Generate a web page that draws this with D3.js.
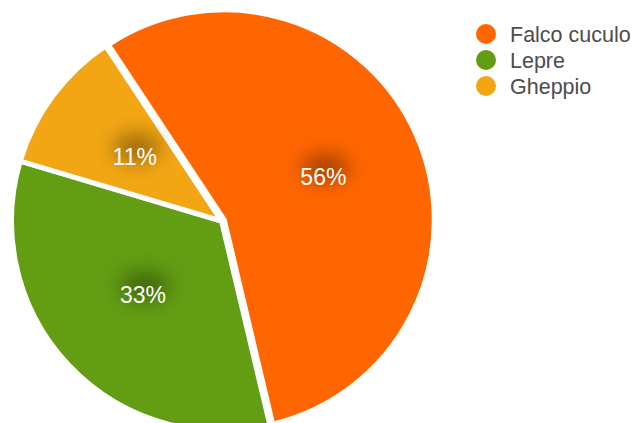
<!DOCTYPE html>
<html>
<head>
<meta charset="utf-8">
<script src="https://cdn.jsdelivr.net/npm/d3@7"></script>
<style>
  html, body { margin: 0; padding: 0; background: #fff; }
  svg { display: block; font-family: "Helvetica Neue", Helvetica, "Liberation Sans", Arial, sans-serif; }
</style>
</head>
<body>
<script>
// data (shares of the whole, in percent)
var categories = ["Falco cuculo", "Lepre", "Gheppio"];
var values = [55.6, 33.3, 11.1];
var colors = ["#ff6600", "#629d13", "#f2a614"];

var width = 635, height = 423;
var cx = 221.5, cy = 221, radius = 210;
var explode = [3, 0, 0];   // the big slice is pulled out a little

var svg = d3.select("body").append("svg")
    .attr("width", width)
    .attr("height", height);

// soft shadow behind the labels
var defs = svg.append("defs");
defs.append("filter")
    .attr("id", "blur")
    .attr("x", "-100%").attr("y", "-100%")
    .attr("width", "300%").attr("height", "300%")
    .append("feGaussianBlur")
    .attr("stdDeviation", 10);

var start = -33.5 * Math.PI / 180;
var pie = d3.pie().sort(null)
    .startAngle(start)
    .endAngle(start + 2 * Math.PI);

var arcs = pie(values);
var arc = d3.arc().innerRadius(0).outerRadius(radius);
var labelArc = d3.arc().innerRadius(216).outerRadius(0);

var g = svg.append("g")
    .attr("transform", "translate(" + cx + "," + cy + ")");

var slices = g.selectAll("g.slice")
    .data(arcs)
    .enter()
    .append("g")
    .attr("class", "slice")
    .attr("transform", function(d, i) {
        var mid = (d.startAngle + d.endAngle) / 2;
        return "translate(" + (Math.sin(mid) * explode[i]) + "," + (-Math.cos(mid) * explode[i]) + ")";
    });

slices.append("path")
    .attr("d", arc)
    .attr("fill", function(d, i) { return colors[i]; })
    .attr("stroke", "#fff")
    .attr("stroke-width", 5)
    .attr("stroke-linejoin", "round");

// shadow blob, then the white percentage
slices.append("ellipse")
    .attr("transform", function(d) {
        var c = labelArc.centroid(d);
        return "translate(" + (c[0] + 2) + "," + (c[1] - 9) + ")";
    })
    .attr("rx", 24)
    .attr("ry", 14)
    .attr("fill", "#000")
    .attr("opacity", 0.35)
    .attr("filter", "url(#blur)");

slices.append("text")
    .attr("transform", function(d) {
        return "translate(" + labelArc.centroid(d) + ")";
    })
    .attr("dy", "0.35em")
    .attr("text-anchor", "middle")
    .attr("font-size", "23px")
    .attr("fill", "#fff")
    .text(function(d) { return Math.round(d.value) + "%"; });

// legend
var legend = svg.append("g")
    .attr("transform", "translate(486,34)");

var item = legend.selectAll("g")
    .data(categories)
    .enter()
    .append("g")
    .attr("transform", function(d, i) { return "translate(0," + (i * 26) + ")"; });

item.append("circle")
    .attr("r", 10)
    .attr("fill", function(d, i) { return colors[i]; });

item.append("text")
    .attr("x", 24)
    .attr("y", 8)
    .attr("font-size", "21.5px")
    .attr("fill", "#4d4d4d")
    .text(function(d) { return d; });
</script>
</body>
</html>
